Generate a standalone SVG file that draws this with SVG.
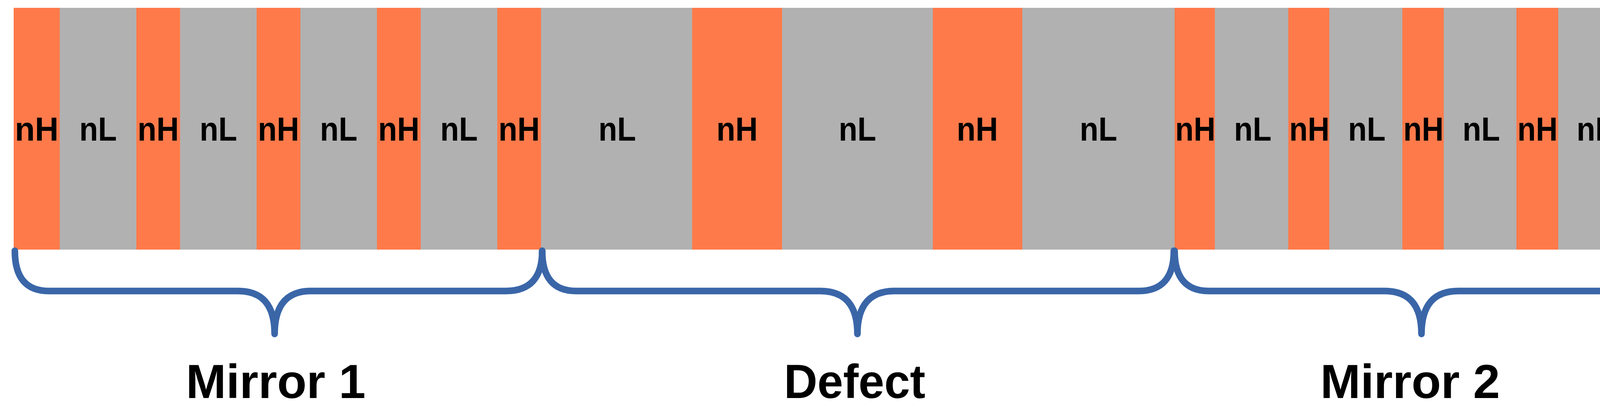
<svg xmlns="http://www.w3.org/2000/svg" width="4325" height="1065" viewBox="0 0 4325 1065">
<style>
.h{fill:#FF7A4A}.l{fill:#B1B1B1}
.t{font-family:"Liberation Sans",Arial,sans-serif;font-weight:bold;font-size:85px;fill:#000;text-anchor:middle}
.b{fill:none;stroke:#3A66A8;stroke-width:17;stroke-linecap:round;stroke-linejoin:round}
.c{font-family:"Liberation Sans",Arial,sans-serif;font-weight:bold;font-size:122px;fill:#000;text-anchor:middle}
</style>
<rect width="4325" height="1065" fill="#fff"/>
<g id="layers">
<rect class="h" x="35" y="20" width="118" height="619"/>
<rect class="l" x="153" y="20" width="196" height="619"/>
<rect class="h" x="349" y="20" width="112" height="619"/>
<rect class="l" x="461" y="20" width="196" height="619"/>
<rect class="h" x="657" y="20" width="112" height="619"/>
<rect class="l" x="769" y="20" width="196" height="619"/>
<rect class="h" x="965" y="20" width="112" height="619"/>
<rect class="l" x="1077" y="20" width="196" height="619"/>
<rect class="h" x="1273" y="20" width="112" height="619"/>
<rect class="l" x="1385" y="20" width="387" height="619"/>
<rect class="h" x="1772" y="20" width="230" height="619"/>
<rect class="l" x="2002" y="20" width="386" height="619"/>
<rect class="h" x="2388" y="20" width="229" height="619"/>
<rect class="l" x="2617" y="20" width="390" height="619"/>
<rect class="h" x="3007" y="20" width="103" height="619"/>
<rect class="l" x="3110" y="20" width="188" height="619"/>
<rect class="h" x="3298" y="20" width="105" height="619"/>
<rect class="l" x="3403" y="20" width="187" height="619"/>
<rect class="h" x="3590" y="20" width="106" height="619"/>
<rect class="l" x="3696" y="20" width="186" height="619"/>
<rect class="h" x="3882" y="20" width="107" height="619"/>
<rect class="l" x="3989" y="20" width="186" height="619"/>
<rect class="h" x="4175" y="20" width="114" height="619"/>
</g>
<g id="labels">
<text class="t" x="94" y="360" textLength="112" lengthAdjust="spacingAndGlyphs">nH</text>
<text class="t" x="251" y="360" textLength="96" lengthAdjust="spacingAndGlyphs">nL</text>
<text class="t" x="405" y="360" textLength="106" lengthAdjust="spacingAndGlyphs">nH</text>
<text class="t" x="559" y="360" textLength="96" lengthAdjust="spacingAndGlyphs">nL</text>
<text class="t" x="713" y="360" textLength="106" lengthAdjust="spacingAndGlyphs">nH</text>
<text class="t" x="867" y="360" textLength="96" lengthAdjust="spacingAndGlyphs">nL</text>
<text class="t" x="1021" y="360" textLength="106" lengthAdjust="spacingAndGlyphs">nH</text>
<text class="t" x="1175" y="360" textLength="96" lengthAdjust="spacingAndGlyphs">nL</text>
<text class="t" x="1329" y="360" textLength="106" lengthAdjust="spacingAndGlyphs">nH</text>
<text class="t" x="1580" y="360" textLength="96" lengthAdjust="spacingAndGlyphs">nL</text>
<text class="t" x="1887" y="360" textLength="106" lengthAdjust="spacingAndGlyphs">nH</text>
<text class="t" x="2195" y="360" textLength="96" lengthAdjust="spacingAndGlyphs">nL</text>
<text class="t" x="2502" y="360" textLength="106" lengthAdjust="spacingAndGlyphs">nH</text>
<text class="t" x="2812" y="360" textLength="96" lengthAdjust="spacingAndGlyphs">nL</text>
<text class="t" x="3060" y="360" textLength="103" lengthAdjust="spacingAndGlyphs">nH</text>
<text class="t" x="3207" y="360" textLength="96" lengthAdjust="spacingAndGlyphs">nL</text>
<text class="t" x="3352" y="360" textLength="103" lengthAdjust="spacingAndGlyphs">nH</text>
<text class="t" x="3499" y="360" textLength="96" lengthAdjust="spacingAndGlyphs">nL</text>
<text class="t" x="3644" y="360" textLength="103" lengthAdjust="spacingAndGlyphs">nH</text>
<text class="t" x="3792" y="360" textLength="96" lengthAdjust="spacingAndGlyphs">nL</text>
<text class="t" x="3936" y="360" textLength="103" lengthAdjust="spacingAndGlyphs">nH</text>
<text class="t" x="4084" y="360" textLength="96" lengthAdjust="spacingAndGlyphs">nL</text>
<text class="t" x="4232" y="360" textLength="103" lengthAdjust="spacingAndGlyphs">nH</text>
</g>
<g id="braces">
<path class="b" d="M38 642 Q38 745 125 745 L610 745 Q703 745 703 855 Q703 745 796 745 L1295 745 Q1388 745 1388 642"/>
<path class="b" d="M1388 642 Q1388 745 1475 745 L2100 745 Q2195 745 2195 855 Q2195 745 2290 745 L2915 745 Q3005 745 3005 642"/>
<path class="b" d="M3007 642 Q3007 745 3095 745 L3545 745 Q3639 745 3639 855 Q3639 745 3733 745 L4200 745 Q4287 745 4287 642"/>
</g>
<g id="captions">
<text class="c" x="706" y="1019" textLength="460" lengthAdjust="spacingAndGlyphs">Mirror 1</text>
<text class="c" x="2188" y="1019" textLength="362" lengthAdjust="spacingAndGlyphs">Defect</text>
<text class="c" x="3610" y="1019" textLength="460" lengthAdjust="spacingAndGlyphs">Mirror 2</text>
</g>
</svg>
